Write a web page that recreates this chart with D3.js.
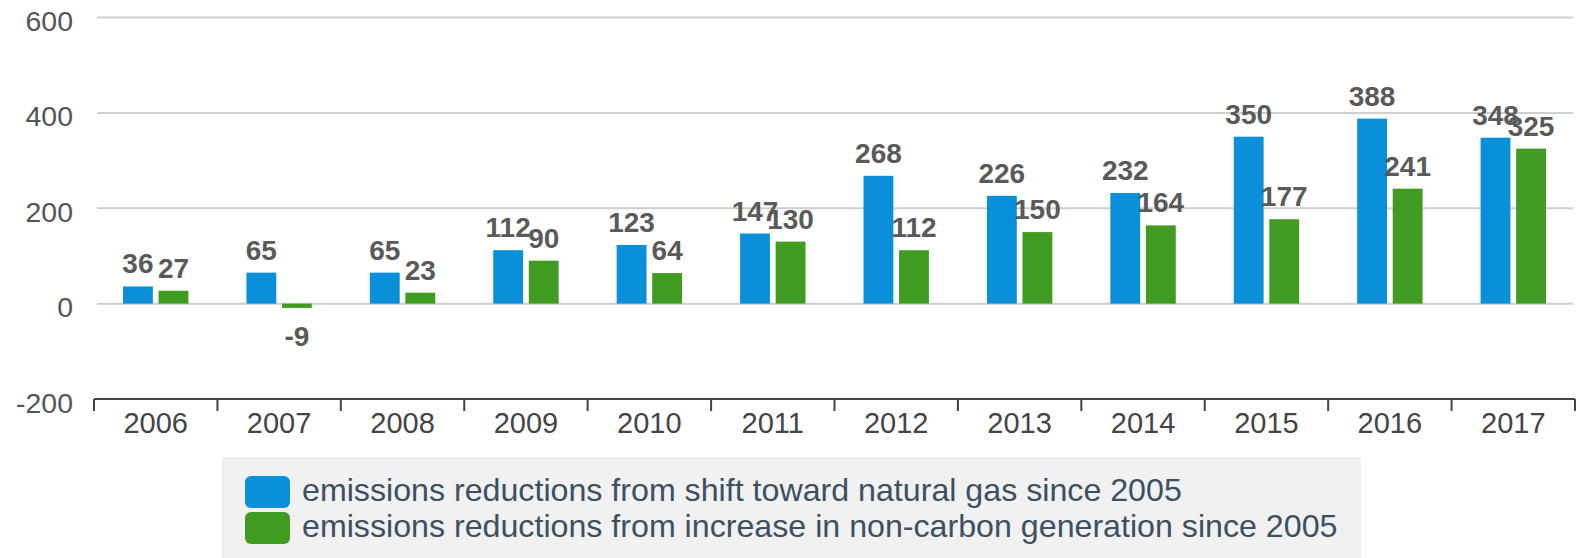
<!DOCTYPE html>
<html><head><meta charset="utf-8">
<script src="https://cdn.jsdelivr.net/npm/d3@7/dist/d3.min.js"></script>
<style>body{margin:0;background:#fff}svg{display:block}</style>
</head><body>
<script>
const years = ["2006","2007","2008","2009","2010","2011","2012","2013","2014","2015","2016","2017"];
const gasValues = [36,65,65,112,123,147,268,226,232,350,388,348];
const nonCarbonValues = [27,-9,23,90,64,130,112,150,164,177,241,325];
const seriesNames = ["emissions reductions from shift toward natural gas since 2005","emissions reductions from increase in non-carbon generation since 2005"];
const seriesColors = ["#0a8fdb","#3f9c20"];
const yTicks = [-200,0,200,400,600];

const W = 1578, H = 558;
const svg = d3.select("body").append("svg").attr("width", W).attr("height", H);
const font = "'Liberation Sans', Arial, Helvetica, sans-serif";

const x0 = d3.scaleBand().domain(years).range([94, 1575]).padding(0);
const bw = x0.bandwidth();
const x1 = d3.scaleBand().domain([0,1]).range([bw*0.235, bw*0.765]).paddingInner(0.16);
const y = d3.scaleLinear().domain([-200, 600]).range([399, 17.5]);

// gridlines
svg.append("g").selectAll("line").data(yTicks.filter(t => t > -200)).join("line")
  .attr("x1", 97).attr("x2", 1573)
  .attr("y1", d => y(d)).attr("y2", d => y(d))
  .attr("stroke", "#cfcfcf").attr("stroke-width", 2);

// y labels
svg.append("g").selectAll("text").data(yTicks).join("text")
  .attr("x", 73).attr("y", d => y(d) + 6)
  .attr("text-anchor", "end").attr("dominant-baseline", "middle")
  .attr("font-family", font).attr("font-size", 28.5).attr("fill", "#555")
  .text(d => d);

// bars
const data = years.map((yr, i) => ({yr, vals: [gasValues[i], nonCarbonValues[i]]}));
const groups = svg.append("g").selectAll("g").data(data).join("g")
  .attr("transform", d => `translate(${x0(d.yr)},0)`);
groups.selectAll("rect").data(d => d.vals.map((v, k) => ({v, k}))).join("rect")
  .attr("x", d => x1(d.k)).attr("width", x1.bandwidth())
  .attr("y", d => y(Math.max(0, d.v))).attr("height", d => Math.abs(y(d.v) - y(0)))
  .attr("fill", d => seriesColors[d.k]);
groups.selectAll("text").data(d => d.vals.map((v, k) => ({v, k}))).join("text")
  .attr("x", d => x1(d.k) + x1.bandwidth()/2)
  .attr("y", d => d.v >= 0 ? y(d.v) - 13 : y(d.v) + 38)
  .attr("text-anchor", "middle")
  .attr("font-family", font).attr("font-size", 28).attr("font-weight", "bold").attr("fill", "#5a5a5a")
  .text(d => d.v);

// x axis
const ax = svg.append("g").attr("transform", `translate(0,${y(-200)})`);
ax.append("line").attr("x1", 94).attr("x2", 1575).attr("stroke", "#444").attr("stroke-width", 2);
const edges = years.map(yy => x0(yy)).concat([x0.range()[1]]);
ax.selectAll("line.tk").data(edges).join("line").attr("class", "tk")
  .attr("x1", d => d).attr("x2", d => d).attr("y1", 0).attr("y2", 12)
  .attr("stroke", "#444").attr("stroke-width", 2);
ax.selectAll("text").data(years).join("text")
  .attr("x", d => x0(d) + bw/2).attr("y", 26)
  .attr("text-anchor", "middle").attr("dominant-baseline", "middle")
  .attr("font-family", font).attr("font-size", 29).attr("fill", "#444")
  .text(d => d);

// legend
const lg = svg.append("g");
lg.append("rect").attr("x", 223).attr("y", 458).attr("width", 1137).attr("height", 110)
  .attr("fill", "#f1f1f1").attr("stroke", "#e6e6e6");
const items = lg.selectAll("g").data(seriesNames).join("g")
  .attr("transform", (d, i) => `translate(245,${476 + i*36})`);
items.append("rect").attr("width", 45).attr("height", 32).attr("rx", 6)
  .attr("fill", (d, i) => seriesColors[i]);
const lt = items.append("text").attr("x", 57).attr("y", 16).attr("dominant-baseline", "middle")
  .attr("font-family", font).attr("font-size", 28).attr("fill", "#3b5062")
  .text(d => d);
const w2 = lt.nodes()[1].getComputedTextLength();
lt.attr("font-size", 28 * 1036 / w2);
</script>
</body></html>
